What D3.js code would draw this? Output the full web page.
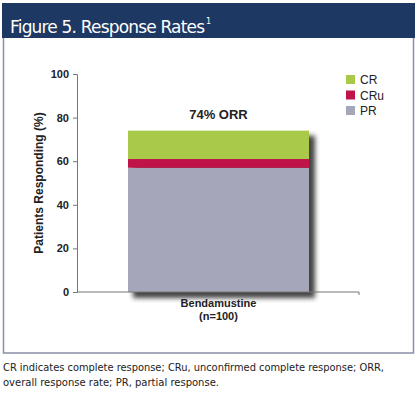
<!DOCTYPE html>
<html>
<head>
<meta charset="utf-8">
<script src="https://cdn.jsdelivr.net/npm/d3@7"></script>
<style>
  body { margin: 0; background: #fff; }
</style>
</head>
<body>
<div class="root"></div>
<script>
const width = 418;
const height = 395;

// data
const categories = ["Bendamustine"];
const categorySub = ["(n=100)"];
const seriesNames = ["PR", "CRu", "CR"];
const prValues = [57];
const cruValues = [4];
const crValues = [13];
const yTicks = [0, 20, 40, 60, 80, 100];
const colors = { PR: "#a6a6bb", CRu: "#c0134a", CR: "#a8ca48" };

const svg = d3
  .select(".root")
  .append("svg")
  .attr("width", width)
  .attr("height", height)
  .style("font-family", "'Liberation Sans', Arial, sans-serif");

// frame + header
svg.append("rect")
  .attr("x", 3.5).attr("y", 30).attr("width", 410).attr("height", 323)
  .attr("fill", "#fff").attr("stroke", "#8a8ea8").attr("stroke-width", 1.5);
svg.append("rect")
  .attr("x", 2).attr("y", 3).attr("width", 413).attr("height", 35)
  .attr("fill", "#1d3862");
svg.append("text")
  .attr("x", 10).attr("y", 33)
  .attr("fill", "#fff")
  .style("font-family", "'DejaVu Sans', sans-serif")
  .style("font-size", "17px")
  .attr("textLength", 195)
  .text("Figure 5. Response Rates");
svg.append("text")
  .attr("x", 206).attr("y", 24)
  .attr("fill", "#fff")
  .style("font-family", "'DejaVu Sans', sans-serif")
  .style("font-size", "8px")
  .text("1");

const margin = { left: 77, top: 74, right: 359, bottom: 292 };

const y = d3.scaleLinear().domain([0, 100]).range([margin.bottom, margin.top]);
// bar spans 128..309 of the plot
const xb = d3.scaleLinear().domain([0, 1]).range([128, 309]);

const stackData = categories.map((c, i) => ({
  cat: c, PR: prValues[i], CRu: cruValues[i], CR: crValues[i],
}));
const stacked = d3.stack().keys(seriesNames)(stackData);
const total = stacked[stacked.length - 1][0][1];

// drop shadow
svg.append("defs").append("filter").attr("id", "blur")
  .attr("x", "-20%").attr("y", "-20%").attr("width", "140%").attr("height", "140%")
  .append("feGaussianBlur").attr("stdDeviation", 2.8);

svg.append("rect")
  .attr("x", xb(0) + 5)
  .attr("y", y(total) + 5)
  .attr("width", xb(1) - xb(0) + 1)
  .attr("height", y(0) - y(total) + 1)
  .attr("fill", "#222")
  .attr("opacity", 0.85)
  .attr("filter", "url(#blur)");

svg.append("g")
  .selectAll("rect")
  .data(stacked)
  .join("rect")
  .attr("x", xb(0))
  .attr("width", xb(1) - xb(0))
  .attr("y", (s) => y(s[0][1]))
  .attr("height", (s) => y(s[0][0]) - y(s[0][1]))
  .attr("fill", (s) => colors[s.key]);

// axes
const yAxis = svg.append("g")
  .attr("transform", `translate(${margin.left},0)`)
  .call(d3.axisLeft(y).tickValues(yTicks).tickSize(4).tickPadding(4));
yAxis.select(".domain").attr("stroke", "#777");
yAxis.selectAll(".tick line").attr("stroke", "#777");
yAxis.selectAll(".tick text")
  .attr("fill", "#222")
  .style("font-size", "11px")
  .style("font-weight", "bold");

svg.append("line")
  .attr("x1", margin.left).attr("x2", margin.right)
  .attr("y1", y(0)).attr("y2", y(0))
  .attr("stroke", "#777").attr("stroke-width", 1.2);
svg.append("line")
  .attr("x1", margin.right).attr("x2", margin.right)
  .attr("y1", y(0)).attr("y2", y(0) + 3)
  .attr("stroke", "#777");

svg.append("text")
  .attr("transform", `translate(43,${(margin.top + margin.bottom) / 2}) rotate(-90)`)
  .attr("text-anchor", "middle")
  .attr("fill", "#222")
  .style("font-size", "12px")
  .style("font-weight", "bold")
  .text("Patients Responding (%)");

// category labels
const cx = (xb(0) + xb(1)) / 2;
svg.append("text")
  .attr("x", cx).attr("y", 307)
  .attr("text-anchor", "middle").attr("fill", "#222")
  .style("font-size", "11px").style("font-weight", "bold")
  .text(categories[0]);
svg.append("text")
  .attr("x", cx).attr("y", 320)
  .attr("text-anchor", "middle").attr("fill", "#222")
  .style("font-size", "11px").style("font-weight", "bold")
  .text(categorySub[0]);

// ORR label
svg.append("text")
  .attr("x", cx).attr("y", y(total) - 12)
  .attr("text-anchor", "middle").attr("fill", "#222")
  .style("font-size", "13px").style("font-weight", "bold")
  .text(`${total}% ORR`);

// legend
const legend = svg.append("g")
  .selectAll("g")
  .data(seriesNames.slice().reverse())
  .join("g")
  .attr("transform", (d, i) => `translate(346,${75 + i * 15.5})`);
legend.append("rect")
  .attr("width", 9).attr("height", 9)
  .attr("fill", (d) => colors[d]);
legend.append("text")
  .attr("x", 14).attr("y", 9)
  .attr("fill", "#222")
  .style("font-size", "12px")
  .text((d) => d);

// footnote
const foot = [
  "CR indicates complete response; CRu, unconfirmed complete response; ORR,",
  "overall response rate; PR, partial response.",
];
svg.append("g")
  .selectAll("text")
  .data(foot)
  .join("text")
  .attr("x", 3)
  .attr("y", (d, i) => 371 + i * 15)
  .attr("fill", "#222")
  .style("font-family", "'DejaVu Sans', sans-serif")
  .style("font-size", "10.5px")
  .attr("textLength", (d, i) => (i === 0 ? 381 : 216))
  .attr("lengthAdjust", "spacingAndGlyphs")
  .text((d) => d);
</script>
</body>
</html>
